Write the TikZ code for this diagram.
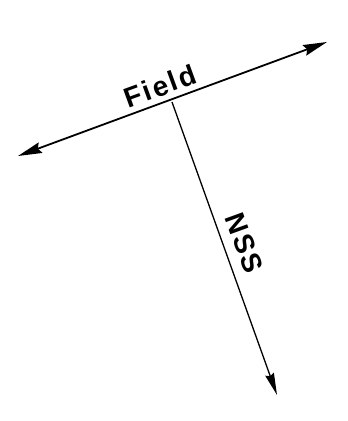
\documentclass[tikz,border=0pt]{standalone}
\usepackage{fontspec}
\setmainfont{Liberation Sans}
\newfontfamily\lblfont[LetterSpace=8]{Liberation Sans}
\usetikzlibrary{arrows.meta}
\begin{document}
\begin{tikzpicture}[x=1pt,y=1pt,
  tip/.tip={Stealth[length=24pt,width=11pt,inset=3pt]},
  ntip/.tip={Stealth[length=22pt,width=9pt,inset=2pt]},
  axis/.style={line width=1.8pt},
  lbl/.style={font=\lblfont\fontsize{28}{28}\selectfont\bfseries, inner sep=0pt}]
\useasboundingbox (0,0) rectangle (348,-421);
\coordinate (L) at (18,-156);
\coordinate (R) at (327,-42);
\coordinate (J) at (172,-102);
\coordinate (B) at (277,-395);
\draw[axis, tip-tip] (L) -- (R);
\draw[axis, line width=1.3pt, -ntip] (J) -- (B);
\node[lbl, rotate=20] (field) at (160,-86) {Field};
\node[lbl, rotate=-70] (nss) at (244,-243) {NSS};
\end{tikzpicture}
\end{document}
